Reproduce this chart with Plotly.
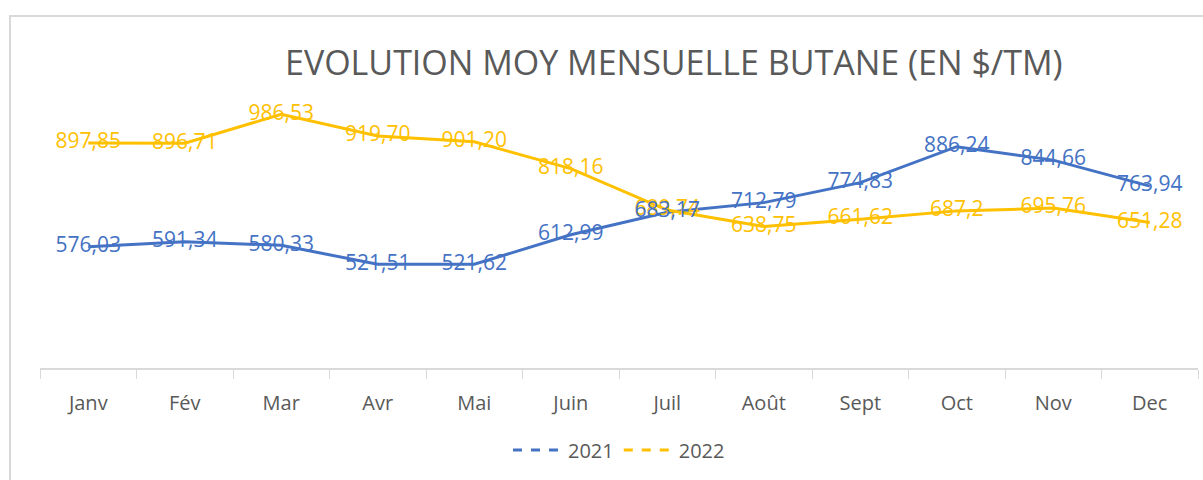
import plotly.graph_objects as go

months = ["Janv", "Fév", "Mar", "Avr", "Mai", "Juin", "Juil", "Août", "Sept", "Oct", "Nov", "Dec"]
values_2021 = [576.03, 591.34, 580.33, 521.51, 521.62, 612.99, 683.17, 712.79, 774.83, 886.24, 844.66, 763.94]
values_2022 = [897.85, 896.71, 986.53, 919.70, 901.20, 818.16, 689.74, 638.75, 661.62, 687.2, 695.76, 651.28]
labels_2021 = ["576,03", "591,34", "580,33", "521,51", "521,62", "612,99", "683,17", "712,79", "774,83", "886,24", "844,66", "763,94"]
labels_2022 = ["897,85", "896,71", "986,53", "919,70", "901,20", "818,16", "689,74", "638,75", "661,62", "687,2", "695,76", "651,28"]

BLUE = "#4472C4"
GOLD = "#FFC000"
GRAY = "#595959"
FONT = "Open Sans"

W, H = 1203, 480
L, R, T, B = 40, 5, 110, 112
pw, ph = W - L - R, H - T - B

def px(x):
    return (x - L) / pw

def py(y):
    return (H - B - y) / ph

fig = go.Figure()
fig.add_trace(go.Scatter(x=months, y=values_2021, mode="lines", line=dict(color=BLUE, width=3),
                         showlegend=False, hoverinfo="skip", cliponaxis=False))
fig.add_trace(go.Scatter(x=months, y=values_2022, mode="lines", line=dict(color=GOLD, width=3),
                         showlegend=False, hoverinfo="skip", cliponaxis=False))
fig.add_trace(go.Scatter(x=months, y=values_2022, mode="text", text=labels_2022,
                         textposition="middle center", textfont=dict(color=GOLD, size=21, family=FONT),
                         showlegend=False, hoverinfo="skip", cliponaxis=False))
fig.add_trace(go.Scatter(x=months, y=values_2021, mode="text", text=labels_2021,
                         textposition="middle center", textfont=dict(color=BLUE, size=21, family=FONT),
                         showlegend=False, hoverinfo="skip", cliponaxis=False))
# legend entries
fig.add_trace(go.Scatter(x=[None], y=[None], mode="lines", name="2021",
                         line=dict(color=BLUE, width=3, dash="dash")))
fig.add_trace(go.Scatter(x=[None], y=[None], mode="lines", name="2022",
                         line=dict(color=GOLD, width=3, dash="dash")))

fig.update_layout(
    width=W, height=H,
    margin=dict(l=L, r=R, t=T, b=B),
    paper_bgcolor="white", plot_bgcolor="white",
    font=dict(family=FONT, color=GRAY),
    showlegend=True,
    legend=dict(orientation="h", x=0.5, xanchor="center", y=py(450), yanchor="middle",
                font=dict(size=20, color=GRAY, family=FONT), itemwidth=50),
    xaxis=dict(type="category", range=[-0.5, 11.5], showgrid=False, showline=True,
               linecolor="#D9D9D9", linewidth=1.5,
               ticks="outside", tickson="boundaries", ticklen=9, tickcolor="#D9D9D9",
               ticklabelstandoff=16,
               tickfont=dict(size=20, color=GRAY, family=FONT), zeroline=False, fixedrange=True),
    yaxis=dict(range=[200, 1000], visible=False, showgrid=False, zeroline=False, fixedrange=True),
    annotations=[dict(text="EVOLUTION MOY MENSUELLE BUTANE (EN $/TM)", xref="paper", yref="paper",
                      x=px(674), y=py(62), xanchor="center", yanchor="middle", showarrow=False,
                      font=dict(size=34, color=GRAY, family=FONT))],
    shapes=[dict(type="rect", xref="paper", yref="paper", x0=px(10), x1=px(1215), y0=py(16), y1=py(500),
                 line=dict(color="#D9D9D9", width=2), fillcolor="rgba(0,0,0,0)", layer="below")],
)

fig.write_html("out.html")
